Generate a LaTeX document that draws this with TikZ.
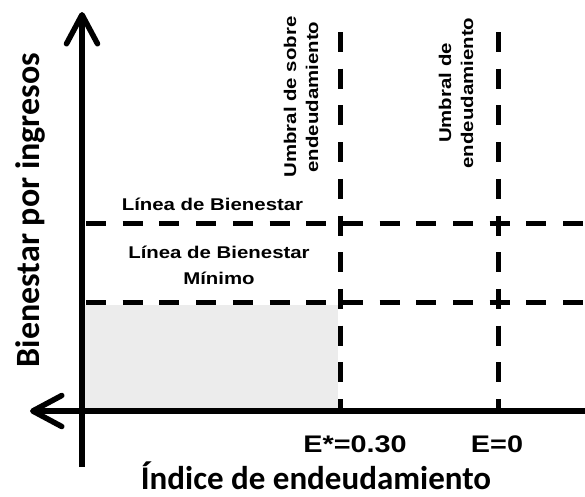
\documentclass[tikz,border=0pt]{standalone}
\usepackage{fontspec}
\setmainfont{Carlito}
\newfontfamily\arialf{Liberation Sans}
\usetikzlibrary{arrows.meta}
\definecolor{areagray}{HTML}{ECECEC}
\newcommand{\wide}[1]{\scalebox{1.2}[1]{#1}}
\begin{document}
\begin{tikzpicture}[x=1pt,y=-1pt,
  axisline/.style={line width=5.5pt,-{Straight Barb[length=29pt,width=31pt,line width=5.5pt,round]}},
  dashline/.style={line width=5pt,dash pattern=on 20pt off 16.7pt},
  lbl/.style={font=\arialf\bfseries\fontsize{17}{28}\selectfont,align=center,inner sep=0pt},
  vlbl/.style={font=\arialf\bfseries\fontsize{17}{22}\selectfont,align=center,rotate=90,inner sep=0pt},
  elbl/.style={font=\arialf\bfseries\fontsize{24}{26}\selectfont,inner sep=0pt,anchor=base}]
\useasboundingbox[fill=white] (0,0) rectangle (585,496);
% shaded region
\fill[areagray] (85,305) rectangle (338,408);
% coordinates
\coordinate (ybot) at (82,467);
\coordinate (ytop) at (82,12);
\coordinate (xr) at (585,411);
\coordinate (xl) at (30,411);
\coordinate (v1t) at (340,32);
\coordinate (v1b) at (340,411);
\coordinate (v2t) at (498,32);
\coordinate (v2b) at (498,411);
\coordinate (h1l) at (86,223);
\coordinate (h1r) at (585,223);
\coordinate (h2l) at (86,302);
\coordinate (h2r) at (585,302);
% dashed lines
\draw[dashline] (v1t) -- (v1b);
\draw[dashline] (v2t) -- (v2b);
\draw[dashline] (h1l) -- (h1r);
\draw[dashline] (h2l) -- (h2r);
% axes
\draw[axisline] (ybot) -- (ytop);
\draw[axisline] (xr) -- (xl);
% labels
\node[lbl,anchor=base] (lb) at (212.5,210) {\wide{Línea de Bienestar}};
\node[lbl,anchor=base] (lbm) at (219,258) {\wide{Línea de Bienestar}};
\node[lbl,anchor=base] (lbm2) at (219,284) {\wide{Mínimo}};
\node[vlbl] (u1) at (301,97) {\wide{Umbral de sobre}\\\wide{endeudamiento}};
\node[vlbl] (u2) at (456,93) {\wide{Umbral de}\\\wide{endeudamiento}};
\node[elbl] (e1) at (355,452) {\wide{E*=0.30}};
\node[elbl] (e2) at (497,452) {\wide{E=0}};
\node[font=\bfseries\fontsize{33}{35}\selectfont,inner sep=0pt,anchor=base] (xt) at (316,489) {Índice de endeudamiento};
\node[font=\bfseries\fontsize{34}{36}\selectfont,rotate=90,inner sep=0pt,anchor=base] (yt) at (39,210) {Bienestar por ingresos};
\end{tikzpicture}
\end{document}
